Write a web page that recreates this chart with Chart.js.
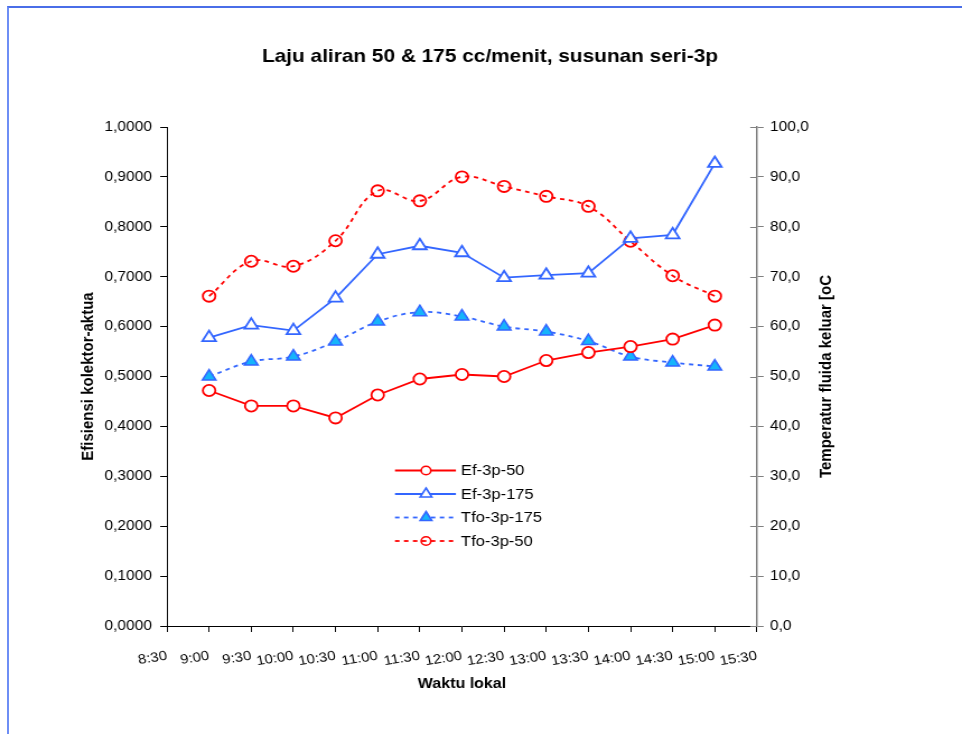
<!DOCTYPE html>
<html><head><meta charset="utf-8">
<script src="https://cdn.jsdelivr.net/npm/chart.js@4.4.0/dist/chart.umd.min.js"></script>
<style>
html,body{margin:0;padding:0;background:#fff;overflow:hidden;width:962px;height:734px;}
#frame{position:absolute;left:7px;top:6px;width:955px;height:728px;border-top:2px solid #4a6ee8;border-left:2px solid #6e8ef5;box-sizing:border-box;pointer-events:none;}
#wrap{position:absolute;left:0;top:0;width:859px;height:734px;transform:scaleX(1.11991);transform-origin:0 0;}
</style></head><body>
<div id="wrap"><canvas id="c"></canvas></div>
<div id="frame"></div>
<script>
// ---- data ----
const timeLabels = ['9:00','9:30','10:00','10:30','11:00','11:30','12:00','12:30','13:00','13:30','14:00','14:30','15:00'];
const xTickLabels = ['8:30','9:00','9:30','10:00','10:30','11:00','11:30','12:00','12:30','13:00','13:30','14:00','14:30','15:00','15:30'];
const ef50  = [0.472,0.441,0.441,0.417,0.463,0.495,0.504,0.500,0.532,0.548,0.560,0.575,0.603];
const ef175 = [0.578,0.603,0.592,0.657,0.745,0.762,0.748,0.698,0.703,0.707,0.777,0.784,0.927];
const tfo175 = [50.0,53.0,54.0,57.0,61.0,62.9,62.0,60.0,59.0,57.1,54.0,52.8,52.0];
const tfo50  = [66.1,73.1,72.1,77.2,87.2,85.2,90.0,88.1,86.1,84.1,77.1,70.2,66.1];
const seriesNames = ['Ef-3p-50','Ef-3p-175','Tfo-3p-175','Tfo-3p-50'];
const chartTitle = 'Laju aliran 50 & 175 cc/menit, susunan seri-3p';
const xTitle = 'Waktu lokal';
const yLeftTitle = 'Efisiensi kolektor-aktua';
const yRightTitle = 'Temperatur fluida keluar [oC';

const toHours = s => { const [h,m] = s.split(':').map(Number); return h + m/60; };
const xs = timeLabels.map(toHours);
const pts = arr => arr.map((v,i) => ({x: xs[i], y: v}));

const FONT = '"Liberation Sans", Arial, Helvetica, sans-serif';
Chart.defaults.font.family = FONT;
Chart.defaults.color = '#000';

const RED = '#ff0000', BLUE = '#3366ff', CYAN = '#16b4fa';

const datasets = [
  {label: seriesNames[0], data: pts(ef50), yAxisID: 'y', borderColor: RED, borderWidth: 1.8, tension: 0,
   pointStyle: 'circle', pointRadius: 5.6, pointBorderWidth: 1.8, pointBorderColor: RED, pointBackgroundColor: '#ffffff', _lr: 4.3},
  {label: seriesNames[1], data: pts(ef175), yAxisID: 'y', borderColor: BLUE, borderWidth: 1.8, tension: 0,
   pointStyle: 'triangle', pointRadius: 7, pointBorderWidth: 1.8, pointBorderColor: BLUE, pointBackgroundColor: '#ffffff', _lr: 6},
  {label: seriesNames[2], data: pts(tfo175), yAxisID: 'y1', borderColor: BLUE, borderWidth: 1.8, borderDash: [4,4], tension: 0.4,
   pointStyle: 'triangle', pointRadius: 7, pointBorderWidth: 1.5, pointBorderColor: BLUE, pointBackgroundColor: CYAN, _lr: 6},
  {label: seriesNames[3], data: pts(tfo50), yAxisID: 'y1', borderColor: RED, borderWidth: 1.8, borderDash: [4,4], tension: 0.4,
   pointStyle: 'circle', pointRadius: 5.6, pointBorderWidth: 1.8, pointBorderColor: RED, pointBackgroundColor: 'rgba(255,255,255,0)', _lr: 4.3}
];

function marker(ctx, style, x, y, r, fill, stroke, lw) {
  ctx.save();
  ctx.setLineDash([]);
  ctx.beginPath();
  if (style === 'circle') ctx.arc(x, y, r, 0, Math.PI*2);
  else {
    for (let k = 0; k < 3; k++) {
      const a = k*2*Math.PI/3;
      const px = x + Math.sin(a)*r, py = y - Math.cos(a)*r;
      if (k) ctx.lineTo(px, py); else ctx.moveTo(px, py);
    }
    ctx.closePath();
  }
  ctx.fillStyle = fill; ctx.fill();
  ctx.lineWidth = lw; ctx.strokeStyle = stroke; ctx.stroke();
  ctx.restore();
}

const extras = {
  id: 'extras',
  afterDraw(chart) {
    const ctx = chart.ctx, area = chart.chartArea, y1 = chart.scales.y1;
    ctx.save();
    // chart title
    ctx.font = 'bold 18.6px ' + FONT; ctx.fillStyle = '#000';
    ctx.textAlign = 'center'; ctx.textBaseline = 'middle';
    ctx.fillText(chartTitle, 437.5, 57);
    // inner tick marks on the right axis
    ctx.strokeStyle = '#808080'; ctx.lineWidth = 1;
    y1.ticks.forEach(t => {
      const py = Math.round(y1.getPixelForValue(t.value)) + 0.5;
      ctx.beginPath(); ctx.moveTo(area.right - 6, py); ctx.lineTo(area.right, py); ctx.stroke();
    });
    // right axis title (reads bottom to top)
    ctx.save();
    ctx.translate(737.5, (area.top + area.bottom)/2);
    ctx.rotate(-Math.PI/2);
    ctx.font = 'bold 15px ' + FONT; ctx.fillStyle = '#000';
    ctx.textAlign = 'center'; ctx.textBaseline = 'middle';
    ctx.fillText(yRightTitle, 0, 0);
    ctx.restore();
    // legend
    const lx1 = 352.7, lx2 = 407.1, lmx = 380.4, ltx = 411.6;
    const rows = [470.5, 494, 517.5, 541];
    chart.data.datasets.forEach((ds, i) => {
      const y = rows[i];
      ctx.save();
      ctx.strokeStyle = ds.borderColor; ctx.lineWidth = ds.borderWidth;
      ctx.setLineDash(ds.borderDash || []);
      ctx.beginPath(); ctx.moveTo(lx1, y); ctx.lineTo(lx2, y); ctx.stroke();
      ctx.restore();
      marker(ctx, ds.pointStyle, lmx, y, ds._lr, ds.pointBackgroundColor, ds.pointBorderColor, 1.6);
      ctx.font = '14.8px ' + FONT; ctx.fillStyle = '#000';
      ctx.textAlign = 'left'; ctx.textBaseline = 'middle';
      ctx.fillText(ds.label, ltx, y + 0.5);
    });
    ctx.restore();
  }
};

new Chart(document.getElementById('c'), {
  type: 'line',
  data: {datasets},
  plugins: [extras],
  options: {
    responsive: true, maintainAspectRatio: false, animation: false,
    devicePixelRatio: 1,
    layout: {padding: {left: 0, right: 0, top: 127, bottom: 0}},
    plugins: {
      legend: {display: false},
      tooltip: {enabled: false},
      title: {display: false}
    },
    scales: {
      x: {
        type: 'linear', position: 'bottom', min: 8.5, max: 15.5,
        afterFit: s => { s.height = 108; },
        ticks: {stepSize: 0.5, autoSkip: false, minRotation: 10, maxRotation: 10, padding: 16,
          font: {size: 13.4}, color: '#000',
          callback: (v, i) => xTickLabels[i]},
        grid: {drawOnChartArea: false, drawTicks: true, tickLength: 6, color: '#000', lineWidth: 1},
        border: {color: '#000', width: 1},
        title: {display: true, text: xTitle, color: '#000', font: {size: 14.3, weight: 'bold'}, padding: {top: 0, bottom: 41.5}}
      },
      y: {
        type: 'linear', position: 'left', min: 0, max: 1,
        afterFit: s => { s.width = 149.1; },
        ticks: {stepSize: 0.1, padding: 7.4, font: {size: 13.9}, color: '#000',
          callback: v => v.toFixed(4).replace('.', ',')},
        grid: {drawOnChartArea: false, drawTicks: true, tickLength: 6, color: '#000'},
        border: {color: '#000', width: 1},
        title: {display: true, text: yLeftTitle, color: '#000', font: {size: 15, weight: 'bold'}, padding: {top: 69.6, bottom: 0}}
      },
      y1: {
        type: 'linear', position: 'right', min: 0, max: 100,
        afterFit: s => { s.width = 183.1; },
        ticks: {stepSize: 10, padding: 5.6, font: {size: 13.9}, color: '#000',
          callback: v => v.toFixed(1).replace('.', ',')},
        grid: {drawOnChartArea: false, drawTicks: true, tickLength: 6, color: '#808080'},
        border: {color: '#808080', width: 1.5}
      }
    }
  }
});
</script>
</body></html>
